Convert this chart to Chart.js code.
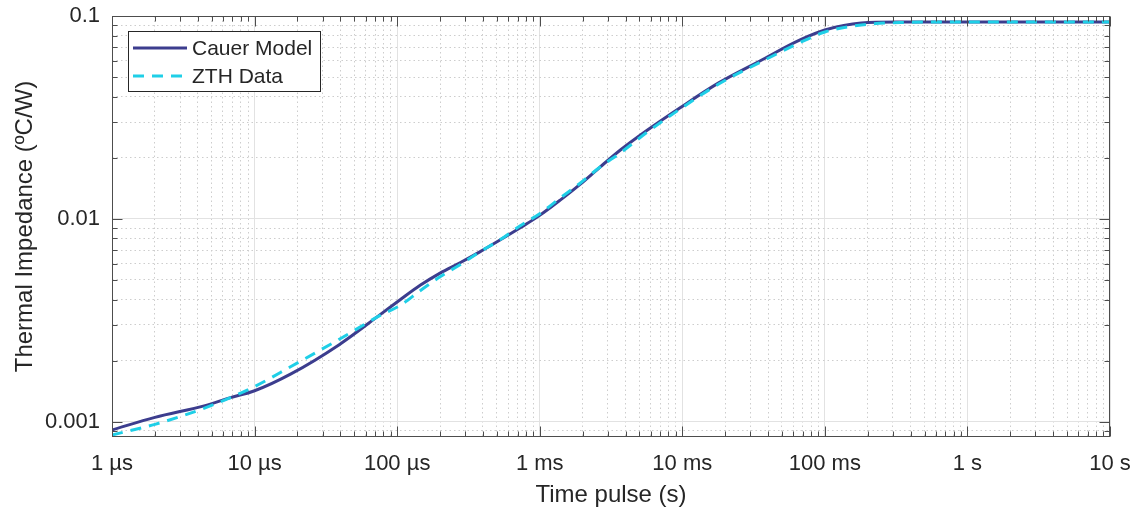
<!DOCTYPE html>
<html>
<head>
<meta charset="utf-8">
<script src="https://cdn.jsdelivr.net/npm/chart.js@4.4.0/dist/chart.umd.min.js"></script>
<style>
  html, body { margin: 0; padding: 0; background: #fff; }
</style>
</head>
<body>
<canvas id="zthChart" width="1135" height="510"></canvas>
<script>
// Thermal impedance: Cauer model fit vs measured ZTH curve (log-log)
const cauerTime = [1e-6, 2e-6, 4.5e-6, 6.7e-6, 1e-5, 1.8e-5, 3.9e-5, 7.6e-5, 1.05e-4, 1.45e-4, 2e-4, 2.76e-4, 3.8e-4,
  5.3e-4, 7.3e-4, 1e-3, 1.4e-3, 1.9e-3, 2.65e-3, 3.7e-3, 5.7e-3, 9.6e-3, 1.8e-2, 3.5e-2, 6.7e-2, 0.1, 0.18, 0.34, 1, 3, 10];
const cauerZ = [0.00091, 0.00105, 0.00120, 0.00131, 0.00142, 0.00172, 0.00239, 0.00337, 0.00399, 0.00470, 0.00540, 0.00607, 0.00687,
  0.00788, 0.00903, 0.0104, 0.0124, 0.0147, 0.0180, 0.0219, 0.0274, 0.0352, 0.0468, 0.0600, 0.0762, 0.0853, 0.0924, 0.0934, 0.0935, 0.0935, 0.0935];

const zthTime = [1e-6, 2e-6, 4.5e-6, 1e-5, 1.8e-5, 3.9e-5, 7.6e-5, 1.05e-4, 1.45e-4, 2e-4, 2.76e-4, 3.8e-4,
  5.3e-4, 7.3e-4, 1e-3, 1.4e-3, 1.9e-3, 2.65e-3, 3.7e-3, 5.7e-3, 9.6e-3, 1.8e-2, 3.5e-2, 6.7e-2, 0.1, 0.18, 0.34, 1, 3, 10];
const zthZ = [0.00086, 0.00097, 0.00117, 0.00149, 0.00187, 0.00254, 0.00334, 0.00374, 0.00442, 0.00518, 0.00594, 0.00687,
  0.00790, 0.00925, 0.0106, 0.0127, 0.0149, 0.0180, 0.0212, 0.0268, 0.0347, 0.0462, 0.0590, 0.0740, 0.0834, 0.0903, 0.0929, 0.0935, 0.0935, 0.0935];

const xMajor = [1e-6, 1e-5, 1e-4, 1e-3, 1e-2, 1e-1, 1, 10];
const xTickLabels = ['1 µs', '10 µs', '100 µs', '1 ms', '10 ms', '100 ms', '1 s', '10 s'];
const yMajor = [0.001, 0.01, 0.1];
const yTickLabels = ['0.001', '0.01', '0.1'];

const FONT = '"Liberation Sans", Arial, Helvetica, sans-serif';
const TEXT = '#262626';

function majorIndex(v, majors) {
  return majors.findIndex(m => Math.abs(v / m - 1) < 1e-6);
}

// 1..9 x each decade, for grid lines / minor ticks
function decadeTicks(majors) {
  const out = [];
  for (let i = 0; i < majors.length - 1; i++) {
    for (let k = 1; k < 10; k++) out.push(+(k * majors[i]).toPrecision(6));
  }
  out.push(majors[majors.length - 1]);
  return out;
}
const xTicks = decadeTicks(xMajor);
const yTicks = [9e-4].concat(decadeTicks(yMajor));

function toPoints(xs, ys) {
  return xs.map((t, i) => ({ x: t, y: ys[i] }));
}

// box + inward ticks on all four sides (matlab style)
const axesBox = {
  id: 'axesBox',
  afterDraw(chart) {
    const { ctx, chartArea: a, scales: { x, y } } = chart;
    const L = Math.round(a.left) + 0.5, R = Math.round(a.right) - 0.5;
    const T = Math.round(a.top) + 0.5, B = Math.round(a.bottom) - 0.5;
    ctx.save();
    ctx.strokeStyle = '#4d4d4d';
    ctx.lineWidth = 1;
    ctx.beginPath();
    x.ticks.forEach(t => {
      const px = Math.round(x.getPixelForValue(t.value)) + 0.5;
      const len = majorIndex(t.value, xMajor) >= 0 ? 10 : 5;
      ctx.moveTo(px, B); ctx.lineTo(px, B - len);
      ctx.moveTo(px, T); ctx.lineTo(px, T + len);
    });
    y.ticks.forEach(t => {
      const py = Math.round(y.getPixelForValue(t.value)) + 0.5;
      const len = majorIndex(t.value, yMajor) >= 0 ? 10 : 5;
      ctx.moveTo(L, py); ctx.lineTo(L + len, py);
      ctx.moveTo(R, py); ctx.lineTo(R - len, py);
    });
    ctx.stroke();
    ctx.strokeRect(L, T, R - L, B - T);
    ctx.restore();
  }
};

// legend box in the upper-left corner of the axes
const boxLegend = {
  id: 'boxLegend',
  afterDraw(chart) {
    const { ctx, chartArea: a } = chart;
    const bx = Math.round(a.left) + 16, by = Math.round(a.top) + 15, bw = 192, bh = 60;
    ctx.save();
    ctx.fillStyle = '#fff';
    ctx.fillRect(bx, by, bw, bh);
    ctx.strokeStyle = TEXT;
    ctx.lineWidth = 1;
    ctx.strokeRect(bx + 0.5, by + 0.5, bw, bh);
    chart.data.datasets.forEach((ds, i) => {
      const ly = by + 17 + i * 28;
      ctx.strokeStyle = ds.borderColor;
      ctx.lineWidth = ds.borderWidth;
      ctx.setLineDash(ds.borderDash || []);
      ctx.beginPath();
      ctx.moveTo(bx + 5, ly);
      ctx.lineTo(bx + 59, ly);
      ctx.stroke();
      ctx.setLineDash([]);
      ctx.fillStyle = TEXT;
      ctx.font = '21px ' + FONT;
      ctx.textBaseline = 'middle';
      ctx.fillText(ds.label, bx + 64, ly + 1);
    });
    ctx.restore();
  }
};

const ctx = document.getElementById('zthChart').getContext('2d');
const zthChart = new Chart(ctx, {
  type: 'line',
  data: {
    datasets: [{
      label: 'Cauer Model',
      data: toPoints(cauerTime, cauerZ),
      borderColor: '#3c3d8e',
      borderWidth: 3,
      pointRadius: 0,
      cubicInterpolationMode: 'monotone',
      fill: false,
      order: 2,
    }, {
      label: 'ZTH Data',
      data: toPoints(zthTime, zthZ),
      borderColor: '#1fcfe7',
      borderWidth: 3,
      borderDash: [11, 8],
      pointRadius: 0,
      cubicInterpolationMode: 'monotone',
      fill: false,
      order: 1,
    }]
  },
  options: {
    responsive: false,
    animation: false,
    layout: { padding: { top: 16, right: 25, left: 0, bottom: 0 } },
    plugins: {
      legend: { display: false },
      tooltip: { enabled: false }
    },
    scales: {
      x: {
        type: 'logarithmic',
        min: 1e-6,
        max: 10,
        afterBuildTicks: scale => { scale.ticks = xTicks.map(v => ({ value: v })); },
        afterFit: scale => {
          scale.height = 73;
          scale.paddingLeft = 0;
          scale.paddingRight = 0;
        },
        grid: {
          drawTicks: false,
          color: c => c.tick && majorIndex(c.tick.value, xMajor) >= 0 ? '#e2e2e2' : '#cdcdcd'
        },
        border: {
          display: false,
          dash: c => c.tick && majorIndex(c.tick.value, xMajor) < 0 ? [1.5, 3] : []
        },
        ticks: {
          autoSkip: false,
          maxRotation: 0,
          padding: 14,
          color: TEXT,
          font: { family: FONT, size: 22 },
          callback: v => { const i = majorIndex(v, xMajor); return i >= 0 ? xTickLabels[i] : ''; }
        },
        title: {
          display: true,
          text: 'Time pulse (s)',
          color: TEXT,
          font: { family: FONT, size: 24 },
          padding: { top: 2, bottom: 0 }
        }
      },
      y: {
        type: 'logarithmic',
        min: 0.00084,
        max: 0.1,
        afterBuildTicks: scale => { scale.ticks = yTicks.map(v => ({ value: v })); },
        afterFit: scale => {
          scale.width = 112;
          scale.paddingTop = 0;
          scale.paddingBottom = 0;
        },
        grid: {
          drawTicks: false,
          color: c => c.tick && majorIndex(c.tick.value, yMajor) >= 0 ? '#e2e2e2' : '#cdcdcd'
        },
        border: {
          display: false,
          dash: c => c.tick && majorIndex(c.tick.value, yMajor) < 0 ? [1.5, 3] : []
        },
        ticks: {
          autoSkip: false,
          padding: 12,
          color: TEXT,
          font: { family: FONT, size: 22 },
          callback: v => { const i = majorIndex(v, yMajor); return i >= 0 ? yTickLabels[i] : ''; }
        },
        title: {
          display: true,
          text: 'Thermal Impedance (ºC/W)',
          color: TEXT,
          font: { family: FONT, size: 24 },
          padding: { top: 11, bottom: 0 }
        }
      }
    }
  },
  plugins: [axesBox, boxLegend]
});
</script>
</body>
</html>
